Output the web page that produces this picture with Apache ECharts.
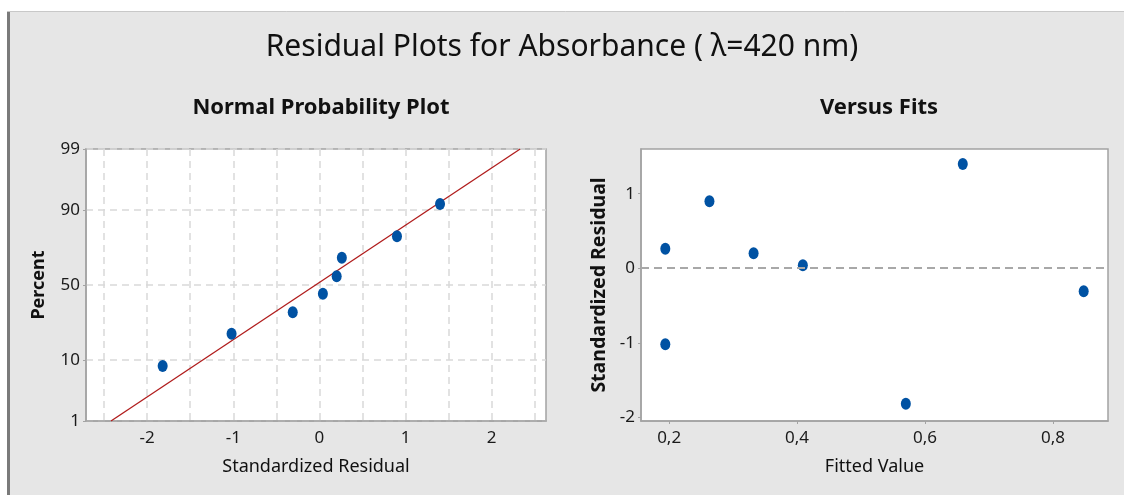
<!DOCTYPE html>
<html>
<head>
<meta charset="utf-8">
<script src="https://cdn.jsdelivr.net/npm/echarts@6.0.0/dist/echarts.min.js"></script>
<style>
html, body { margin: 0; padding: 0; background: #ffffff; }
#main { width: 1124px; height: 495px; }
</style>
</head>
<body>
<div id="main"></div>
<script>
// values
var fittedValues = [ 0.194, 0.194, 0.263, 0.332, 0.409, 0.570, 0.659, 0.848 ];
var residuals = [ 0.26, -1.02, 0.90, 0.20, 0.04, -1.82, 1.40, -0.31 ];
// normal probability plot: ordered residuals and their plotted percent
var orderedResiduals = [ -1.82, -1.02, -0.31, 0.04, 0.20, 0.26, 0.90, 1.40 ];
var plotPercents = [ 8.3, 20.2, 32.1, 44.0, 56.0, 67.9, 79.8, 91.7 ];
// fitted reference line, where it meets the 1% and 99% edges
var fitLineX = [ -2.42, 2.33 ];
var fitLinePercents = [ 1, 99 ];
// tick labels
var percentTicks = [ 1, 10, 50, 90, 99 ];
var residualTicks = [ -2, -1, 0, 1, 2 ];
var residualGrid = [ -2.5, -2, -1.5, -1, -0.5, 0, 0.5, 1, 1.5, 2, 2.5 ];
var fitTicks = [ 0.2, 0.4, 0.6, 0.8 ];
var stdResTicks = [ -2, -1, 0, 1 ];

var fontFam = '"Noto Sans", "Open Sans", sans-serif';

// inverse normal cdf, used as the probability axis scale
function probit(p) {
	var a = [ -3.969683028665376e+01, 2.209460984245205e+02, -2.759285104469687e+02, 1.383577518672690e+02, -3.066479806614716e+01, 2.506628277459239e+00 ];
	var b = [ -5.447609879822406e+01, 1.615858368580409e+02, -1.556989798598866e+02, 6.680131188771972e+01, -1.328068155288572e+01 ];
	var c = [ -7.784894002430293e-03, -3.223964580411365e-01, -2.400758277161838e+00, -2.549732539343734e+00, 4.374664141464968e+00, 2.938163982698783e+00 ];
	var d = [ 7.784695709041462e-03, 3.224671290700398e-01, 2.445134137142996e+00, 3.754408661907416e+00 ];
	var plow = 0.02425, q, r;
	if (p < plow) {
		q = Math.sqrt(-2 * Math.log(p));
		return (((((c[0] * q + c[1]) * q + c[2]) * q + c[3]) * q + c[4]) * q + c[5]) / ((((d[0] * q + d[1]) * q + d[2]) * q + d[3]) * q + 1);
	}
	if (p > 1 - plow) {
		q = Math.sqrt(-2 * Math.log(1 - p));
		return -(((((c[0] * q + c[1]) * q + c[2]) * q + c[3]) * q + c[4]) * q + c[5]) / ((((d[0] * q + d[1]) * q + d[2]) * q + d[3]) * q + 1);
	}
	q = p - 0.5;
	r = q * q;
	return (((((a[0] * r + a[1]) * r + a[2]) * r + a[3]) * r + a[4]) * r + a[5]) * q / (((((b[0] * r + b[1]) * r + b[2]) * r + b[3]) * r + b[4]) * r + 1);
}

var percentZ = percentTicks.map(function(p) { return probit(p / 100); });

var probData = [];
for ( var i = 0; i < orderedResiduals.length; i++) {
	probData.push([ orderedResiduals[i], probit(plotPercents[i] / 100) ]);
}
var lineData = [];
for ( var i = 0; i < fitLineX.length; i++) {
	lineData.push([ fitLineX[i], probit(fitLinePercents[i] / 100) ]);
}
var fitsData = [];
for ( var i = 0; i < fittedValues.length; i++) {
	fitsData.push([ fittedValues[i], residuals[i] ]);
}

var borderLine = {
	show : true,
	onZero : false,
	lineStyle : { color : '#a3a3a3', width : 1.5 }
};
var nameStyle = { fontSize : 18, color : '#111', fontFamily : fontFam };

var chart = echarts.init(document.getElementById('main'));
var option = {
	backgroundColor : '#e6e6e6',
	animation : false,
	graphic : [
		{ type : 'rect', shape : { x : 0, y : 0, width : 1124, height : 11 }, style : { fill : '#ffffff' } },
		{ type : 'rect', shape : { x : 0, y : 0, width : 7, height : 495 }, style : { fill : '#ffffff' } },
		{ type : 'rect', shape : { x : 7, y : 11, width : 3, height : 484 }, style : { fill : '#7a7a7a' } },
		{ type : 'line', shape : { x1 : 7, y1 : 11.5, x2 : 1124, y2 : 11.5 }, style : { stroke : '#c8c8c8', lineWidth : 1 } },
		{ type : 'text', left : 'center', top : 32, style : { text : 'Residual Plots for Absorbance ( λ=420 nm)', fill : '#111', font : '30px ' + fontFam } }
	],
	title : [ {
		text : 'Normal Probability Plot',
		left : 316,
		top : 92,
		textAlign : 'center',
		textStyle : { fontSize : 22, fontWeight : 'bold', color : '#111', fontFamily : fontFam }
	}, {
		text : 'Versus Fits',
		left : 874,
		top : 92,
		textAlign : 'center',
		textStyle : { fontSize : 22, fontWeight : 'bold', color : '#111', fontFamily : fontFam }
	} ],
	grid : [ {
		left : 86, top : 149, width : 460, height : 272,
		show : true, backgroundColor : '#ffffff', borderColor : '#a3a3a3', borderWidth : 1.5
	}, {
		left : 641, top : 149, width : 467, height : 272,
		show : true, backgroundColor : '#ffffff', borderColor : '#a3a3a3', borderWidth : 1.5
	} ],
	xAxis : [ {
		type : 'value',
		gridIndex : 0,
		min : -2.71,
		max : 2.63,
		name : 'Standardized Residual',
		nameLocation : 'middle',
		nameGap : 37,
		nameTextStyle : nameStyle,
		axisLine : borderLine,
		axisTick : { show : false, customValues : residualGrid },
		axisLabel : {
			color : '#1a1a1a', fontSize : 17, fontFamily : fontFam, margin : 9,
			customValues : residualTicks
		},
		splitLine : { show : true, lineStyle : { color : '#d9d9d9', type : [ 7, 5 ], width : 1.5 } }
	}, {
		type : 'value',
		gridIndex : 1,
		min : 0.156,
		max : 0.886,
		name : 'Fitted Value',
		nameLocation : 'middle',
		nameGap : 37,
		nameTextStyle : nameStyle,
		axisLine : borderLine,
		axisTick : { show : true, length : 3, customValues : fitTicks, lineStyle : { color : '#a3a3a3' } },
		axisLabel : {
			color : '#1a1a1a', fontSize : 17, fontFamily : fontFam, margin : 9,
			customValues : fitTicks,
			formatter : function(v) { return String(v).replace('.', ','); }
		},
		splitLine : { show : false }
	} ],
	yAxis : [ {
		type : 'value',
		gridIndex : 0,
		min : percentZ[0],
		max : percentZ[percentZ.length - 1],
		name : 'Percent',
		nameLocation : 'middle',
		nameGap : 38,
		nameTextStyle : { fontSize : 18, fontWeight : 'bold', color : '#111', fontFamily : fontFam },
		axisLine : borderLine,
		axisTick : { show : true, length : 3, customValues : percentZ, lineStyle : { color : '#a3a3a3' } },
		axisLabel : {
			color : '#1a1a1a', fontSize : 17, fontFamily : fontFam, margin : 6,
			customValues : percentZ,
			formatter : function(v) {
				for ( var k = 0; k < percentZ.length; k++) {
					if (Math.abs(percentZ[k] - v) < 1e-6) {
						return String(percentTicks[k]);
					}
				}
				return '';
			}
		},
		splitLine : { show : true, lineStyle : { color : '#d9d9d9', type : [ 7, 5 ], width : 1.5 } }
	}, {
		type : 'value',
		gridIndex : 1,
		min : -2.05,
		max : 1.6,
		name : 'Standardized Residual',
		nameLocation : 'middle',
		nameGap : 32,
		nameTextStyle : { fontSize : 19.5, fontWeight : 'bold', color : '#111', fontFamily : fontFam },
		axisLine : borderLine,
		axisTick : { show : true, length : 3, customValues : stdResTicks, lineStyle : { color : '#a3a3a3' } },
		axisLabel : {
			color : '#1a1a1a', fontSize : 17, fontFamily : fontFam, margin : 6,
			customValues : stdResTicks
		},
		splitLine : { show : false }
	} ],
	series : [ {
		name : 'fit',
		type : 'line',
		xAxisIndex : 0,
		yAxisIndex : 0,
		data : lineData,
		symbol : 'none',
		z : 2,
		lineStyle : { color : '#b01c1c', width : 1.3 }
	}, {
		name : 'prob',
		type : 'scatter',
		xAxisIndex : 0,
		yAxisIndex : 0,
		data : probData,
		symbol : 'circle',
		symbolSize : [ 10, 12 ],
		z : 3,
		itemStyle : { color : '#0052a3', opacity : 1 }
	}, {
		name : 'fits',
		type : 'scatter',
		xAxisIndex : 1,
		yAxisIndex : 1,
		data : fitsData,
		symbol : 'circle',
		symbolSize : [ 10, 12 ],
		z : 3,
		itemStyle : { color : '#0052a3', opacity : 1 },
		markLine : {
			silent : true,
			symbol : 'none',
			label : { show : false },
			lineStyle : { color : '#a8a8a8', type : [ 8, 5 ], width : 2 },
			data : [ { yAxis : 0 } ]
		}
	} ]
};
chart.setOption(option);
window.onresize = chart.resize;
</script>
</body>
</html>
